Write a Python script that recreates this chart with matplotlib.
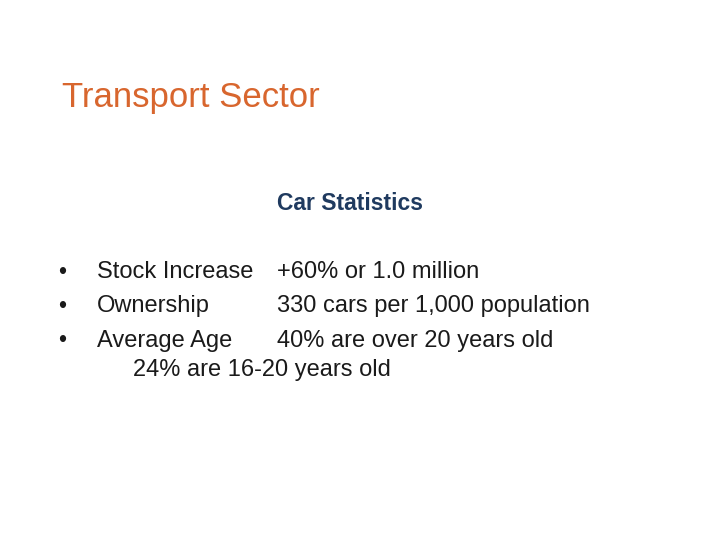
import matplotlib
matplotlib.use("Agg")
import matplotlib.pyplot as plt

title = "Transport Sector"
subtitle = "Car Statistics"
labels = ["Stock Increase", "Ownership", "Average Age"]
values = ["+60% or 1.0 million", "330 cars per 1,000 population", "40% are over 20 years old"]
extra = "24% are 16-20 years old"

plt.rcParams['font.family'] = ['Liberation Sans', 'DejaVu Sans']
fig = plt.figure(figsize=(7.2, 5.4), dpi=100)
W, H = 720, 540
def t(x, y, s, **kw):
    fig.text(x / W, 1 - y / H, s, va='center', **kw)

t(62, 98, title, fontsize=25, color='#D8662E')
t(350, 203, subtitle, fontsize=16.5, fontweight='bold', color='#1F3A5F', ha='center')
ys = [272, 306, 341]
for y, l, v in zip(ys, labels, values):
    t(58, y, "•", fontsize=16.5, color='#1a1a1a')
    t(97, y, l, fontsize=17, color='#1a1a1a')
    t(277, y, v, fontsize=17, color='#1a1a1a')
t(133, 370, extra, fontsize=17, color='#1a1a1a')

fig.savefig("out.png", dpi=100)
